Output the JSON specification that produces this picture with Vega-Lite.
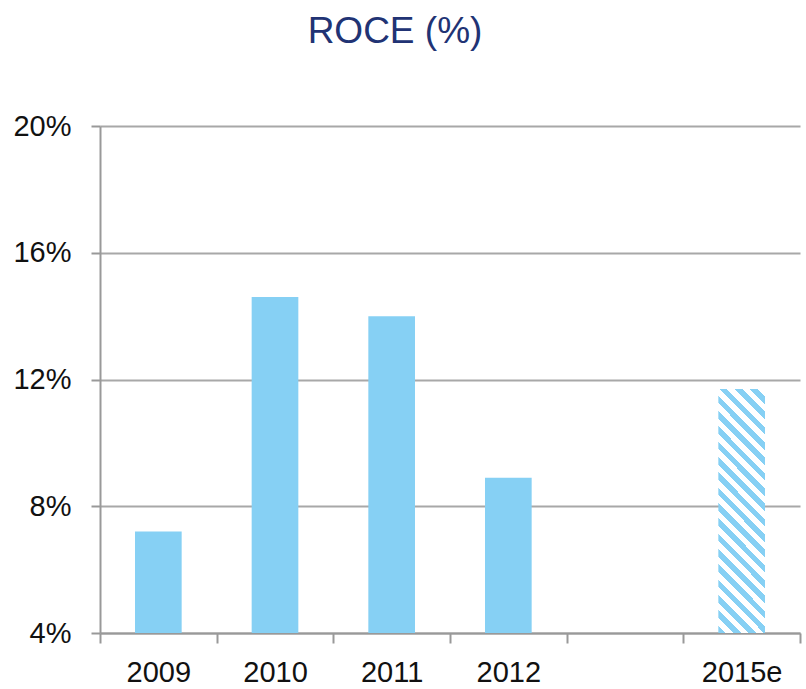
{
  "$schema": "https://vega.github.io/schema/vega-lite/v6.json",
  "autosize": "none",
  "padding": {"left": 100, "top": 126, "right": 6, "bottom": 56},
  "width": 700,
  "height": 507,
  "background": "white",
  "config": {"view": {"stroke": null}},
  "title": {
    "text": "ROCE (%)",
    "font": "Liberation Sans",
    "fontSize": 37,
    "fontWeight": "normal",
    "color": "#213374",
    "anchor": "middle",
    "baseline": "alphabetic",
    "offset": 32,
    "dx": -55
  },
  "data": {
    "values": [
      {"year": "2009", "roce": 7.2, "kind": "actual"},
      {"year": "2010", "roce": 14.6, "kind": "actual"},
      {"year": "2011", "roce": 14.0, "kind": "actual"},
      {"year": "2012", "roce": 8.9, "kind": "actual"},
      {"year": "2015e", "roce": 11.7, "kind": "estimate"}
    ]
  },
  "encoding": {
    "x": {
      "field": "year",
      "type": "nominal",
      "sort": null,
      "scale": {"domain": ["2009", "2010", "2011", "2012", " ", "2015e"], "paddingInner": 0, "paddingOuter": 0},
      "axis": {
        "title": null,
        "labelAngle": 0,
        "labelFont": "Liberation Sans",
        "labelFontSize": 29,
        "labelColor": "#111111",
        "labelPadding": 15,
        "tickBand": "extent",
        "tickSize": 10,
        "tickColor": "#999999",
        "tickWidth": 2,
        "domainColor": "#999999",
        "domainWidth": 2,
        "grid": false
      }
    },
    "y": {
      "field": "roce",
      "type": "quantitative",
      "scale": {"domain": [4, 20], "nice": false, "zero": false},
      "axis": {
        "title": null,
        "values": [4, 8, 12, 16, 20],
        "labelExpr": "datum.value + '%'",
        "labelFont": "Liberation Sans",
        "labelFontSize": 29,
        "labelColor": "#111111",
        "labelPadding": 20,
        "tickSize": 9,
        "tickColor": "#999999",
        "tickWidth": 2,
        "domainColor": "#999999",
        "domainWidth": 2,
        "grid": true,
        "gridColor": "#A8A8A8",
        "gridWidth": 2
      }
    },
    "y2": {"datum": 4}
  },
  "layer": [
    {
      "transform": [{"filter": "datum.kind === 'actual'"}],
      "mark": {"type": "bar", "width": {"band": 0.4}, "color": "#86D0F4"}
    },
    {
      "transform": [{"filter": "datum.kind === 'estimate'"}],
      "mark": {
        "type": "bar",
        "width": {"band": 0.4},
        "color": {
          "gradient": "linear",
          "x1": 0, "y1": 1, "x2": 0.2215, "y2": -0.15,
          "stops": [
            {"offset": 0, "color": "#86D0F4"}, {"offset": 0.0263, "color": "#86D0F4"}, {"offset": 0.0263, "color": "#FFFFFF"}, {"offset": 0.0526, "color": "#FFFFFF"},
            {"offset": 0.0526, "color": "#86D0F4"}, {"offset": 0.0789, "color": "#86D0F4"}, {"offset": 0.0789, "color": "#FFFFFF"}, {"offset": 0.1053, "color": "#FFFFFF"},
            {"offset": 0.1053, "color": "#86D0F4"}, {"offset": 0.1316, "color": "#86D0F4"}, {"offset": 0.1316, "color": "#FFFFFF"}, {"offset": 0.1579, "color": "#FFFFFF"},
            {"offset": 0.1579, "color": "#86D0F4"}, {"offset": 0.1842, "color": "#86D0F4"}, {"offset": 0.1842, "color": "#FFFFFF"}, {"offset": 0.2105, "color": "#FFFFFF"},
            {"offset": 0.2105, "color": "#86D0F4"}, {"offset": 0.2368, "color": "#86D0F4"}, {"offset": 0.2368, "color": "#FFFFFF"}, {"offset": 0.2632, "color": "#FFFFFF"},
            {"offset": 0.2632, "color": "#86D0F4"}, {"offset": 0.2895, "color": "#86D0F4"}, {"offset": 0.2895, "color": "#FFFFFF"}, {"offset": 0.3158, "color": "#FFFFFF"},
            {"offset": 0.3158, "color": "#86D0F4"}, {"offset": 0.3421, "color": "#86D0F4"}, {"offset": 0.3421, "color": "#FFFFFF"}, {"offset": 0.3684, "color": "#FFFFFF"},
            {"offset": 0.3684, "color": "#86D0F4"}, {"offset": 0.3947, "color": "#86D0F4"}, {"offset": 0.3947, "color": "#FFFFFF"}, {"offset": 0.4211, "color": "#FFFFFF"},
            {"offset": 0.4211, "color": "#86D0F4"}, {"offset": 0.4474, "color": "#86D0F4"}, {"offset": 0.4474, "color": "#FFFFFF"}, {"offset": 0.4737, "color": "#FFFFFF"},
            {"offset": 0.4737, "color": "#86D0F4"}, {"offset": 0.5, "color": "#86D0F4"}, {"offset": 0.5, "color": "#FFFFFF"}, {"offset": 0.5263, "color": "#FFFFFF"},
            {"offset": 0.5263, "color": "#86D0F4"}, {"offset": 0.5526, "color": "#86D0F4"}, {"offset": 0.5526, "color": "#FFFFFF"}, {"offset": 0.5789, "color": "#FFFFFF"},
            {"offset": 0.5789, "color": "#86D0F4"}, {"offset": 0.6053, "color": "#86D0F4"}, {"offset": 0.6053, "color": "#FFFFFF"}, {"offset": 0.6316, "color": "#FFFFFF"},
            {"offset": 0.6316, "color": "#86D0F4"}, {"offset": 0.6579, "color": "#86D0F4"}, {"offset": 0.6579, "color": "#FFFFFF"}, {"offset": 0.6842, "color": "#FFFFFF"},
            {"offset": 0.6842, "color": "#86D0F4"}, {"offset": 0.7105, "color": "#86D0F4"}, {"offset": 0.7105, "color": "#FFFFFF"}, {"offset": 0.7368, "color": "#FFFFFF"},
            {"offset": 0.7368, "color": "#86D0F4"}, {"offset": 0.7632, "color": "#86D0F4"}, {"offset": 0.7632, "color": "#FFFFFF"}, {"offset": 0.7895, "color": "#FFFFFF"},
            {"offset": 0.7895, "color": "#86D0F4"}, {"offset": 0.8158, "color": "#86D0F4"}, {"offset": 0.8158, "color": "#FFFFFF"}, {"offset": 0.8421, "color": "#FFFFFF"},
            {"offset": 0.8421, "color": "#86D0F4"}, {"offset": 0.8684, "color": "#86D0F4"}, {"offset": 0.8684, "color": "#FFFFFF"}, {"offset": 0.8947, "color": "#FFFFFF"},
            {"offset": 0.8947, "color": "#86D0F4"}, {"offset": 0.9211, "color": "#86D0F4"}, {"offset": 0.9211, "color": "#FFFFFF"}, {"offset": 0.9474, "color": "#FFFFFF"},
            {"offset": 0.9474, "color": "#86D0F4"}, {"offset": 0.9737, "color": "#86D0F4"}, {"offset": 0.9737, "color": "#FFFFFF"}, {"offset": 1, "color": "#FFFFFF"}
          ]
        }
      }
    }
  ]
}
